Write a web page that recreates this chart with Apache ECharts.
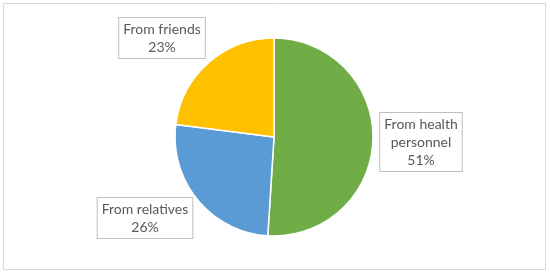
<!DOCTYPE html>
<html lang="en">
<head>
    <meta charset="UTF-8">
    <title>Information sources</title>
    <style>
        html, body { margin: 0; padding: 0; background: #fff; }
        #chart { width: 550px; height: 275px; }
    </style>
</head>
<body>
    <div id="chart"></div>
    <script src="https://cdn.jsdelivr.net/npm/echarts@6/dist/echarts.min.js"></script>
    <script>
        // data
        const categories = ['From health\npersonnel', 'From relatives', 'From friends'];
        const values = [51, 26, 23];
        const colors = ['#70ad47', '#5b9bd5', '#ffc000'];

        // label box centres (px)
        const labelPos = [[421, 142], [145, 218], [162, 38]];

        const myChart = echarts.init(document.getElementById('chart'));

        const option = {
            backgroundColor: '#fff',
            animation: false,
            graphic: [{
                type: 'rect',
                shape: { x: 3.5, y: 3.5, width: 542, height: 266 },
                style: { fill: 'none', stroke: '#d9d9d9', lineWidth: 1 },
                silent: true
            }],
            series: [{
                type: 'pie',
                center: [274, 137],
                radius: 99,
                startAngle: 90,
                clockwise: true,
                itemStyle: {
                    borderColor: '#fff',
                    borderWidth: 1.5
                },
                label: {
                    show: true,
                    position: 'outside',
                    formatter: function (p) {
                        return p.name + '\n' + p.value + '%';
                    },
                    color: '#595959',
                    fontFamily: 'Lato',
                    fontSize: 14,
                    lineHeight: 18,
                    align: 'center',
                    backgroundColor: '#fff',
                    borderColor: '#bfbfbf',
                    borderWidth: 1,
                    padding: [2, 4, 2, 4]
                },
                labelLine: { show: false },
                labelLayout: function (params) {
                    const p = labelPos[params.dataIndex];
                    return {
                        x: p[0],
                        y: p[1],
                        align: 'center',
                        verticalAlign: 'middle'
                    };
                },
                emphasis: { disabled: true },
                data: categories.map(function (name, i) {
                    return {
                        name: name,
                        value: values[i],
                        itemStyle: { color: colors[i] }
                    };
                })
            }]
        };

        myChart.setOption(option);
    </script>
</body>
</html>
